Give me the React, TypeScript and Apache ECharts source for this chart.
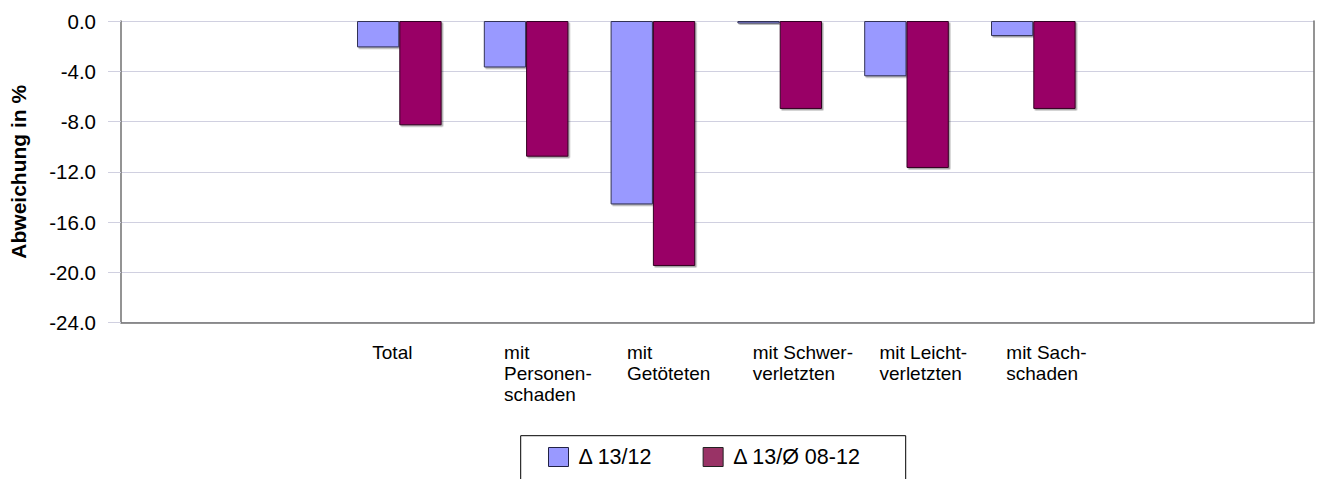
import React, { useEffect, useRef } from "react";
import * as echarts from "echarts";

const categories = [
  "Total",
  "mit\nPersonen-\nschaden",
  "mit\nGetöteten",
  "mit Schwer-\nverletzten",
  "mit Leicht-\nverletzten",
  "mit Sach-\nschaden",
];
const seriesNames = ["Δ 13/12", "Δ 13/Ø 08-12"];
const delta1312 = [-2.1, -3.7, -14.6, -0.2, -4.4, -1.2];
const delta13avg = [-8.3, -10.8, -19.5, -7.0, -11.7, -7.0];
const yMin = -24;
const yMax = 0;
const yInterval = 4;
const labelShift = [0, 5, 1, 0, 0, 0];

const FONT = "'Liberation Sans', Arial, sans-serif";
const GRID_LINE = "#d0d0e0";
const AXIS_LINE = "#707070";

export default function App() {
  const ref = useRef<HTMLDivElement>(null);
  useEffect(() => {
    if (!ref.current) return;
    const chart = echarts.init(ref.current, null, { renderer: "svg" });
    const top = 21;
    const height = 301.5;
    const barLeft = 335.9;
    const barWidthGrid = 760.8;
    const labelStyle = {
      align: "left",
      verticalAlign: "top",
      color: "#000",
      fontSize: 19,
      lineHeight: 21.3,
      fontFamily: FONT,
    };
    chart.setOption({
      animation: false,
      textStyle: { fontFamily: FONT },
      grid: [
        { left: 118, top, width: 1196, height },
        { left: barLeft, top, width: barWidthGrid, height },
        { left: barLeft - 27, top, width: barWidthGrid, height },
      ],
      xAxis: [
        {
          gridIndex: 0,
          type: "value",
          min: 0,
          max: 1,
          axisLine: { show: true, onZero: false, lineStyle: { color: AXIS_LINE, width: 1.5 } },
          axisTick: { show: false },
          axisLabel: { show: false },
          splitLine: { show: false },
        },
        {
          gridIndex: 1,
          type: "category",
          data: categories,
          axisLine: { show: false },
          axisTick: { show: false },
          axisLabel: { show: false },
        },
        {
          gridIndex: 2,
          type: "category",
          data: categories.map((c, i) => ({
            value: c,
            textStyle: { ...labelStyle, padding: [0, 0, 0, labelShift[i]] },
          })),
          axisLine: { show: false },
          axisTick: { show: false },
          axisLabel: {
            show: true,
            margin: 19,
            interval: 0,
            ...labelStyle,
          },
        },
      ],
      yAxis: [
        {
          gridIndex: 0,
          type: "value",
          min: yMin,
          max: yMax,
          interval: yInterval,
          name: "Abweichung in %",
          nameLocation: "middle",
          nameRotate: 90,
          nameGap: 92,
          nameTextStyle: { fontSize: 21, fontWeight: "bold", color: "#000", fontFamily: FONT },
          axisLine: { show: true, lineStyle: { color: AXIS_LINE, width: 1.5 } },
          axisTick: { show: true, inside: false, length: 13, lineStyle: { color: GRID_LINE } },
          axisLabel: {
            margin: 25,
            fontSize: 20.5,
            color: "#000",
            fontFamily: FONT,
            formatter: (v: number) => v.toFixed(1),
          },
          splitLine: { show: true, lineStyle: { color: GRID_LINE, width: 1.2 } },
        },
        {
          gridIndex: 0,
          type: "value",
          position: "right",
          min: yMin,
          max: yMax,
          interval: yInterval,
          axisLine: { show: true, lineStyle: { color: AXIS_LINE, width: 1.5 } },
          axisTick: { show: false },
          axisLabel: { show: false },
          splitLine: { show: false },
        },
        { gridIndex: 1, type: "value", min: yMin, max: yMax, show: false },
        { gridIndex: 2, type: "value", min: yMin, max: yMax, show: false },
      ],
      legend: {
        left: 548,
        top: 446,
        padding: 0,
        itemWidth: 20,
        itemHeight: 19,
        itemGap: 50,
        icon: "rect",
        textStyle: { fontSize: 21.5, color: "#000", fontFamily: FONT, padding: [0, 0, 0, 5] },
        data: [
          { name: seriesNames[0], itemStyle: { color: "#9999ff", borderColor: "#222244", borderWidth: 1 } },
          { name: seriesNames[1], itemStyle: { color: "#993366", borderColor: "#222222", borderWidth: 1 } },
        ],
      },
      graphic: [
        {
          type: "rect",
          z: 0,
          shape: { x: 520.7, y: 435.7, width: 385, height: 80 },
          style: { fill: "#fff", stroke: "#000", lineWidth: 1 },
        },
      ],
      series: [
        {
          name: seriesNames[0],
          type: "bar",
          xAxisIndex: 1,
          yAxisIndex: 2,
          data: delta1312,
          barWidth: 42.3,
          barGap: "0%",
          itemStyle: {
            color: "#9999ff",
            borderColor: "#333355",
            borderWidth: 1,
            shadowColor: "rgba(0,0,0,0.35)",
            shadowOffsetX: 1.5,
            shadowOffsetY: 1.5,
          },
        },
        {
          name: seriesNames[1],
          type: "bar",
          xAxisIndex: 1,
          yAxisIndex: 2,
          data: delta13avg,
          barWidth: 42.3,
          barGap: "0%",
          itemStyle: {
            color: "#990066",
            borderColor: "#330022",
            borderWidth: 1,
            shadowColor: "rgba(0,0,0,0.35)",
            shadowOffsetX: 1.5,
            shadowOffsetY: 1.5,
          },
        },
      ],
    });
    return () => chart.dispose();
  }, []);
  return (
    <div
      ref={ref}
      style={{ position: "fixed", left: 0, top: 0, width: 1321, height: 479, background: "#fff" }}
    />
  );
}
